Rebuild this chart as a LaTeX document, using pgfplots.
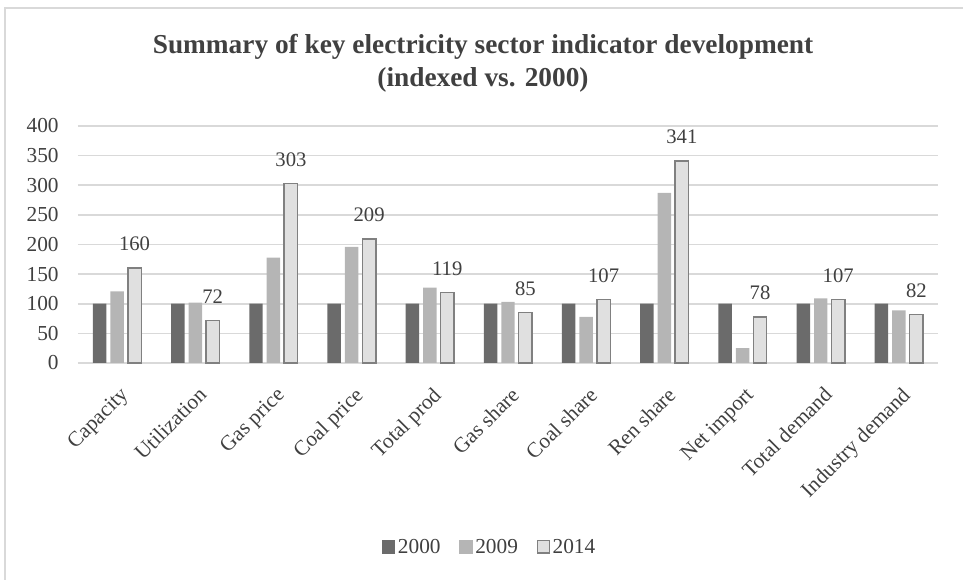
\documentclass[border=0pt]{standalone}
\usepackage{pgfplots}
\pgfplotsset{compat=1.18}
\usepackage{fontspec}
\setmainfont{Liberation Serif}
\definecolor{cA}{HTML}{6B6B6B}
\definecolor{cB}{HTML}{B5B5B5}
\definecolor{cC}{HTML}{E0E0E0}
\definecolor{cCb}{HTML}{808080}
\definecolor{gridc}{HTML}{D9D9D9}
\definecolor{txt}{HTML}{404040}
\begin{document}
\begin{tikzpicture}
\useasboundingbox (-58.5pt,-162.75pt) rectangle (663.75pt,272.25pt);
\draw[gridc, line width=1pt] (-54.75pt,-170pt) -- (-54.75pt,266.25pt) -- (670pt,266.25pt);
\begin{axis}[
  scale only axis,
  width=645pt, height=177.75pt,
  xmin=-0.5, xmax=10.5, ymin=0, ymax=400,
  axis line style={draw=none},
  ymajorgrids, grid style={gridc, line width=1.2pt},
  ytick={0,50,...,400},
  xtick={0,...,10},
  xticklabels={Capacity,Utilization,Gas price,Coal price,Total prod,Gas share,Coal share,Ren share,Net import,Total demand,Industry demand},
  xticklabel style={rotate=45, anchor=north east, font=\fontsize{16}{18}\selectfont, text=txt, inner sep=1pt, yshift=-12pt, xshift=-10pt},
  yticklabel style={font=\fontsize{16}{18}\selectfont, text=txt, xshift=-11pt},
  /pgf/number format/assume math mode=true,
  major tick length=0pt,
  ybar, bar width=10.1pt,
  clip=false,
  legend style={at={(0.479,-0.776)}, anchor=center, draw=none, fill=none, font=\fontsize{16}{18}\selectfont, text=txt, legend columns=3, /tikz/every even column/.append style={column sep=12pt}, /tikz/every odd column/.append style={column sep=0pt}},
]
\addplot[fill=cA, draw=none, bar shift=-13.1pt, legend image code/.code={\fill[cA] (0pt,-5pt) rectangle (10pt,5pt);}] coordinates {(0,100) (1,100) (2,100) (3,100) (4,100) (5,100) (6,100) (7,100) (8,100) (9,100) (10,100)};
\addplot[fill=cB, draw=none, bar shift=0pt, legend image code/.code={\fill[cB] (0pt,-5pt) rectangle (10pt,5pt);}] coordinates {(0,121) (1,102) (2,178) (3,196) (4,127) (5,103) (6,78) (7,287) (8,25) (9,109) (10,89)};
\addplot[fill=cC, draw=cCb, line width=1.1pt, bar shift=13.1pt,
  legend image code/.code={\draw[fill=cC, draw=cCb, line width=0.9pt] (0.45pt,-4.55pt) rectangle (9.55pt,4.55pt);},
  nodes near coords, nodes near coords style={font=\fontsize{15.5}{16}\selectfont, text=txt, anchor=south, yshift=9pt}] coordinates {(0,160) (1,72) (2,303) (3,209) (4,119) (5,85) (6,107) (7,341) (8,78) (9,107) (10,82)};
\legend{2000,2009,2014}
\end{axis}
\node[font=\fontsize{20.5}{25}\selectfont\bfseries, text=txt, align=center] at (303.75pt,225pt) {Summary of key electricity sector indicator development\\(indexed vs. 2000)};
\end{tikzpicture}
\end{document}
